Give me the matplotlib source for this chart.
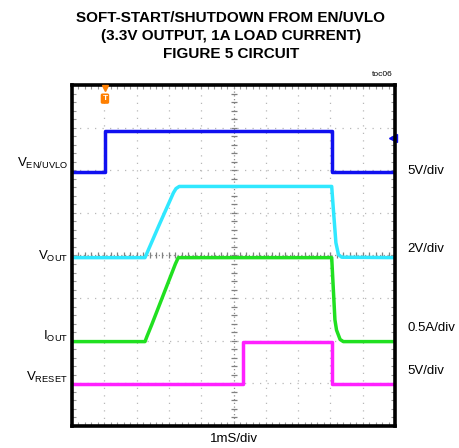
import numpy as np
import matplotlib; matplotlib.use("Agg")
import matplotlib.pyplot as plt

plt.rcParams["font.family"] = ["Liberation Sans", "DejaVu Sans"]
plt.rcParams["mathtext.fontset"] = "custom"
plt.rcParams["mathtext.rm"] = "Liberation Sans"

# ---- traces, in scope divisions (x: 0..10, y: 0..8) ----
t_en = [0.0, 1.02, 1.02, 8.04, 8.04, 10.0]
v_en = [5.95, 5.95, 6.93, 6.93, 5.95, 5.95]

t_vout = [0.0, 2.26, 2.7, 3.14, 3.22, 3.32, 8.04, 8.1, 8.17, 8.25, 8.35, 10.0]
v_vout = [3.95, 3.95, 4.72, 5.47, 5.57, 5.62, 5.62, 5.0, 4.3, 4.02, 3.96, 3.95]

t_iout = [0.0, 2.26, 2.32, 2.47, 3.2, 3.29, 8.04, 8.14, 8.19, 8.3, 8.4, 10.0]
i_iout = [1.98, 1.98, 2.1, 2.38, 3.8, 3.95, 3.95, 2.49, 2.25, 2.03, 1.98, 1.98]

t_rst = [0.0, 5.3, 5.3, 8.04, 8.04, 10.0]
v_rst = [0.99, 0.99, 1.98, 1.98, 0.99, 0.99]

left_labels = [r"$\mathregular{V_{EN/UVLO}}$", r"$\mathregular{V_{OUT}}$",
               r"$\mathregular{I_{OUT}}$", r"$\mathregular{V_{RESET}}$"]
left_y = [6.15, 3.98, 2.1, 1.13]
right_labels = ["5V/div", "2V/div", "0.5A/div", "5V/div"]
right_y = [5.98, 4.15, 2.3, 1.3]

C_EN, C_VO, C_IO, C_RS = "#1010f0", "#30e8ff", "#20e020", "#ff20ff"

fig = plt.figure(figsize=(4.59, 4.48), dpi=100)
ax = fig.add_axes([72/459, 22/448, 323/459, 341/448])
ax.set_xlim(0, 10); ax.set_ylim(0, 8)

# graticule
for x in range(1, 10):
    if x != 5:
        ax.axvline(x, color="#b8b8b8", lw=0.9, ls=(0, (1, 5)), zorder=1)
for y in range(1, 8):
    if y != 4:
        ax.axhline(y, color="#b8b8b8", lw=0.9, ls=(0, (1, 5)), zorder=1)
ax.axvline(5, color="#909090", lw=0.9, ls=(0, (1, 2)), zorder=1)
ax.axhline(4, color="#909090", lw=0.9, ls=(0, (1, 2)), zorder=1)
ax.plot(np.full(41, 5.0), np.linspace(0, 8, 41), ls="none", marker="_",
        ms=5, mew=0.9, color="#808080", zorder=1)
ax.plot(np.linspace(0, 10, 51), np.full(51, 4.0), ls="none", marker="|",
        ms=5, mew=0.9, color="#808080", zorder=1)

ax.set_xticks(range(11)); ax.set_yticks(range(9))
ax.set_xticks(np.linspace(0, 10, 51), minor=True)
ax.set_yticks(np.linspace(0, 8, 41), minor=True)
ax.tick_params(which="both", direction="in", top=True, right=True,
               labelbottom=False, labelleft=False, color="#999999",
               length=3, width=0.8)
for s in ax.spines.values():
    s.set_linewidth(2.6); s.set_color("black"); s.set_zorder(5)

# traces
ax.plot(t_rst, v_rst, color=C_RS, lw=2.5, zorder=3)
ax.plot(t_iout, i_iout, color=C_IO, lw=2.5, zorder=3)
ax.plot(t_vout, v_vout, color=C_VO, lw=2.5, zorder=3)
ax.plot(t_en, v_en, color=C_EN, lw=2.5, zorder=3)

# trigger / channel markers
ax.plot([1.02], [7.93], marker="v", ms=5, color="#ff7f00", clip_on=False, zorder=6)
ax.text(1.02, 7.68, "T", color="white", fontsize=6, fontweight="bold",
        ha="center", va="center", zorder=6,
        bbox=dict(boxstyle="round,pad=0.2", fc="#ff7f00", ec="none"))
ax.plot([9.95], [6.76], marker="<", ms=6, color=C_EN, clip_on=False, zorder=4)

for lab, y in zip(left_labels, left_y):
    fig.text(68/459, (22 + y*341/8)/448, lab, fontsize=9.5, ha="right", va="center")
for lab, y in zip(right_labels, right_y):
    fig.text(407/459, (22 + y*341/8)/448, lab, fontsize=9.5, ha="left", va="center")

fig.text(234/459, 9/448, "1mS/div", fontsize=9.5, ha="center", va="center")
fig.text(393/459, 373/448, "toc06", fontsize=6, ha="right", va="center")

fig.text(231/459, 1 - 36/448,
         "SOFT-START/SHUTDOWN FROM EN/UVLO\n(3.3V OUTPUT, 1A LOAD CURRENT)\nFIGURE 5 CIRCUIT",
         fontweight="bold", fontsize=11, ha="center", va="center", linespacing=1.4)

fig.savefig("out.png", dpi=100)
